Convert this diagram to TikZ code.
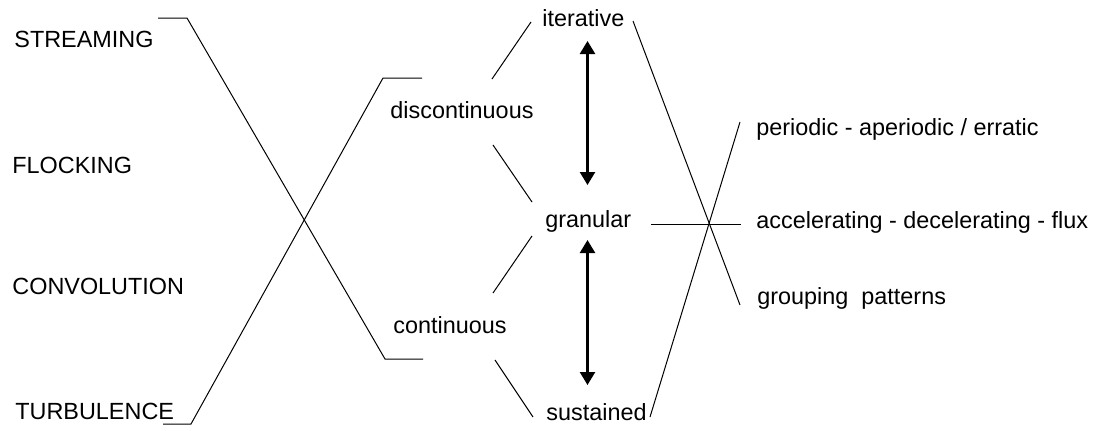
\documentclass[tikz,border=0pt]{standalone}
\usepackage{fontspec}
\setmainfont{Liberation Sans}
\usetikzlibrary{arrows.meta}

\begin{document}
\begin{tikzpicture}[x=0.5pt, y=-0.5pt, every node/.style={scale=1}]
            \tikzset{
                word/.style={
                        anchor=base west, inner sep=0pt, font=\fontsize{11.7}{14}\selectfont
                    },
                link/.style={line width=0.5pt},
                duo/.style={
                        {Triangle[length=6.5pt, width=7.5pt]}-{Triangle[length=6.5pt, width=7.5pt]}, line width=1.2pt
                    }
            }
            \useasboundingbox (0,0) rectangle (1093,430);

            % Phenomena
            \node[word] (streaming) at (14,47) {STREAMING};
            \node[word] (flocking) at (12,173) {FLOCKING};
            \node[word] (convolution) at (12,294) {CONVOLUTION};
            \node[word] (turbulence) at (15,419) {TURBULENCE};

            % Qualities
            \node[word] (discont) at (390,118) {discontinuous};
            \node[word] (cont) at (393,333) {continuous};
            \node[word] (iterative) at (542,26) {iterative};
            \node[word] (granular) at (545,227) {granular};
            \node[word] (sustained) at (546,420) {sustained};

            % Patterns
            \node[word] (periodic) at (756,135) {periodic - aperiodic / erratic};
            \node[word] (accel) at (756,228) {accelerating - decelerating - flux};
            \node[word] (grouping) at (757,304) {grouping\ \ patterns};

            % Line ends
            \coordinate (s0) at (158,18);
            \coordinate (s1) at (187,18);
            \coordinate (s2) at (385,359);
            \coordinate (s3) at (423,359);
            \coordinate (t0) at (163,424);
            \coordinate (t1) at (191,424);
            \coordinate (t2) at (383,78);
            \coordinate (t3) at (422,78);
            \coordinate (d0) at (492,79);
            \coordinate (d1) at (531,22);
            \coordinate (d2) at (493,145);
            \coordinate (d3) at (532,202);
            \coordinate (c0) at (532,236);
            \coordinate (c1) at (493,293);
            \coordinate (c2) at (495,360);
            \coordinate (c3) at (533,417);
            \coordinate (i0) at (633,21);
            \coordinate (i1) at (740,305);
            \coordinate (u0) at (650,417);
            \coordinate (u1) at (740,122);
            \coordinate (g0) at (651,224);
            \coordinate (g1) at (741,224);
            \coordinate (a0) at (587.5,41);
            \coordinate (a1) at (587.5,185);
            \coordinate (b0) at (587.5,240);
            \coordinate (b1) at (587.5,385);

            % Crossing lines
            \draw[link] (s0) -- (s1) -- (s2) -- (s3);
            \draw[link] (t0) -- (t1) -- (t2) -- (t3);

            % Branches
            \draw[link] (d0) -- (d1);
            \draw[link] (d2) -- (d3);
            \draw[link] (c0) -- (c1);
            \draw[link] (c2) -- (c3);

            % Star
            \draw[link] (i0) -- (i1);
            \draw[link] (u0) -- (u1);
            \draw[link] (g0) -- (g1);

            % Double arrows
            \draw[duo] (a0) -- (a1);
            \draw[duo] (b0) -- (b1);
        \end{tikzpicture}
\end{document}
